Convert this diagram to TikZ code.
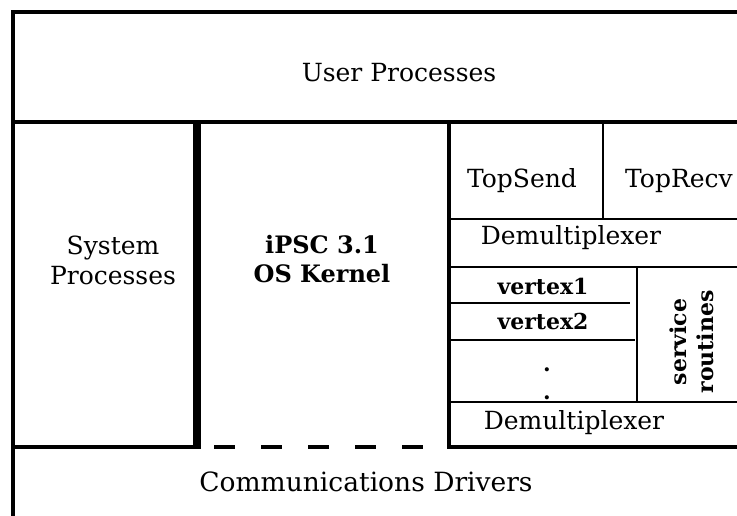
\documentclass[tikz,border=0pt]{standalone}
\usepackage{fontspec}
\setmainfont{DejaVu Serif}
\begin{document}
\begin{tikzpicture}[x=1pt,y=-1pt,
  wall/.style={line width=3.4pt,line cap=rect},
  thin wall/.style={line width=2.6pt},
  lbl/.style={font=\fontsize{25}{30}\selectfont,anchor=base,inner sep=0pt},
  blbl/.style={font=\fontsize{22}{27}\selectfont\bfseries,anchor=base,inner sep=0pt},
  klbl/.style={font=\fontsize{24}{29}\selectfont\bfseries,anchor=base,inner sep=0pt}]
\clip (0,0) rectangle (737,516);
\fill[white] (0,0) rectangle (737,516);
% frame and bands
\draw[wall] (13,12) -- (745,12);
\draw[wall] (13,12) -- (13,520);
\draw[wall] (13,122) -- (745,122);
\draw[wall] (195,122) -- (195,447);
\draw[wall] (199,122) -- (199,447);
\draw[wall] (449,122) -- (449,447);
\draw[wall] (13,447) -- (195,447);
\draw[line width=3.2pt,dash pattern=on 21pt off 26pt] (214,447) -- (423,447);
\draw[wall] (449,447) -- (745,447);
% right stack
\draw[thin wall] (603,122) -- (603,219);
\draw[thin wall] (449,219) -- (745,219);
\draw[thin wall] (449,267) -- (745,267);
\draw[thin wall] (449,303) -- (630,303);
\draw[thin wall] (449,340) -- (635,340);
\draw[thin wall] (637,267) -- (637,402);
\draw[thin wall] (449,402) -- (745,402);
% labels
\node[lbl] (user) at (399,82) {User Processes};
\node[lbl,align=center] (sys) at (113,284) {System\\Processes};
\node[klbl,align=center] (kern) at (322,282) {iPSC 3.1\\OS Kernel};
\node[lbl] (tsend) at (522,188) {TopSend};
\node[lbl] (trecv) at (679,188) {TopRecv};
\node[lbl] (demux1) at (571,244) {Demultiplexer};
\node[blbl] (v1) at (543,294) {vertex1};
\node[blbl] (v2) at (543,329) {vertex2};
\node[blbl] (d1) at (547,371) {.};
\node[blbl] (d2) at (547,399) {.};
\node[blbl,rotate=90,align=center,anchor=center] (serv) at (692,342) {service\\routines};
\node[lbl] (demux2) at (574,429) {Demultiplexer};
\node[lbl,font=\fontsize{26.5}{31}\selectfont] (comm) at (366,491) {Communications Drivers};
\end{tikzpicture}
\end{document}
